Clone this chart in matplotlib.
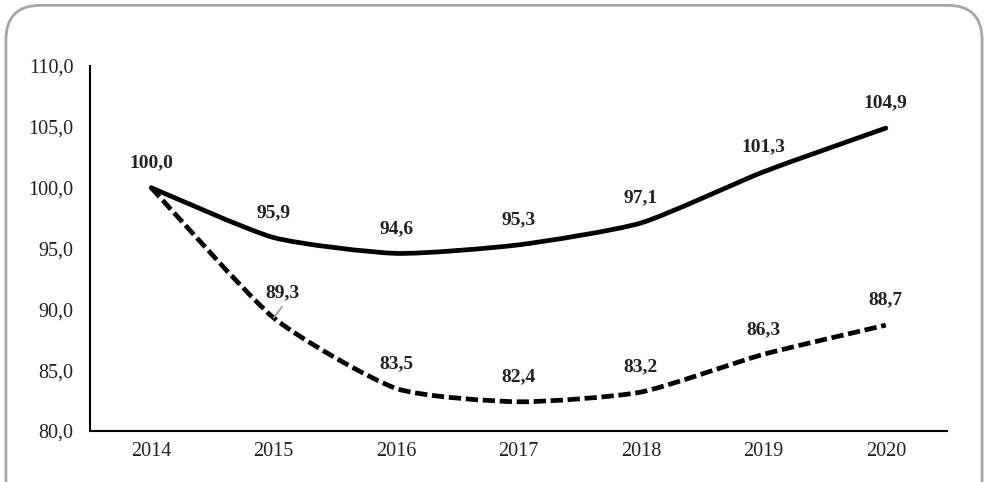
import matplotlib.pyplot as plt
from matplotlib.path import Path
from matplotlib.patches import PathPatch, FancyBboxPatch

years = ["2014", "2015", "2016", "2017", "2018", "2019", "2020"]
solid_values = [100.0, 95.9, 94.6, 95.3, 97.1, 101.3, 104.9]
dashed_values = [100.0, 89.3, 83.5, 82.4, 83.2, 86.3, 88.7]

plt.rcParams["font.family"] = ["Liberation Serif", "DejaVu Serif"]


def fmt(v):
    return f"{v:.1f}".replace(".", ",")


def smooth_path(xs, ys, k=0.1):
    # lightly smoothed line: cubic bezier segments through the data points
    verts = [(xs[0], ys[0])]
    codes = [Path.MOVETO]
    n = len(xs)
    for i in range(n - 1):
        x0, y0 = xs[max(i - 1, 0)], ys[max(i - 1, 0)]
        x1, y1 = xs[i], ys[i]
        x2, y2 = xs[i + 1], ys[i + 1]
        x3, y3 = xs[min(i + 2, n - 1)], ys[min(i + 2, n - 1)]
        c1 = (x1 + (x2 - x0) * k, y1 + (y2 - y0) * k)
        c2 = (x2 - (x3 - x1) * k, y2 - (y3 - y1) * k)
        verts += [c1, c2, (x2, y2)]
        codes += [Path.CURVE4] * 3
    return Path(verts, codes)


fig = plt.figure(figsize=(9.87, 4.82), dpi=100)

frame = FancyBboxPatch((0.006, -0.1), 0.989, 1.089, boxstyle="round,pad=0,rounding_size=0.035",
                       transform=fig.transFigure, facecolor="white", edgecolor="#a6a6a6",
                       linewidth=2.0, mutation_aspect=2.05, zorder=-10)
fig.patches.append(frame)

ax = fig.add_axes([0.0912, 0.1058, 0.8683, 0.7572])
ax.set_zorder(5)
ax.patch.set_alpha(0)
xs = list(range(len(years)))

ax.add_patch(PathPatch(smooth_path(xs, solid_values), fill=False, edgecolor="black",
                       linewidth=3.4, capstyle="round", joinstyle="round"))
ax.add_patch(PathPatch(smooth_path(xs, dashed_values), fill=False, edgecolor="black",
                       linewidth=3.4, linestyle=(0, (2.6, 1.0)), capstyle="butt"))

label_kw = dict(textcoords="offset points", ha="center", va="center",
                fontsize=14, fontweight="bold", color="#222222")

for x, v in zip(xs, solid_values):
    ax.annotate(fmt(v), (x, v), xytext=(0, 18), **label_kw)

for x, v in zip(xs, dashed_values):
    if x == 0:
        continue
    dx = 6 if x == 1 else 0
    ax.annotate(fmt(v), (x, v), xytext=(dx, 18), **label_kw)
# leader line for 89,3
ax.annotate("", (1, dashed_values[1]), xytext=(6, 8), textcoords="offset points",
            arrowprops=dict(arrowstyle="-", color="#999999", linewidth=1.2, shrinkA=0, shrinkB=0))

ax.set_xlim(-0.5, len(years) - 0.5)
ax.set_ylim(80, 110)
ax.set_yticks([80, 85, 90, 95, 100, 105, 110])
ax.set_yticklabels([fmt(t) for t in [80, 85, 90, 95, 100, 105, 110]])
ax.set_xticks(xs)
ax.set_xticklabels(years)
ax.tick_params(axis="y", length=0, pad=12, labelsize=14.5, labelcolor="#222222")
ax.tick_params(axis="x", length=0, pad=8, labelsize=14.5, labelcolor="#222222")
for s in ["top", "right"]:
    ax.spines[s].set_visible(False)
for s in ["left", "bottom"]:
    ax.spines[s].set_linewidth(1.5)
    ax.spines[s].set_color("black")

fig.savefig("out.png", dpi=100)
